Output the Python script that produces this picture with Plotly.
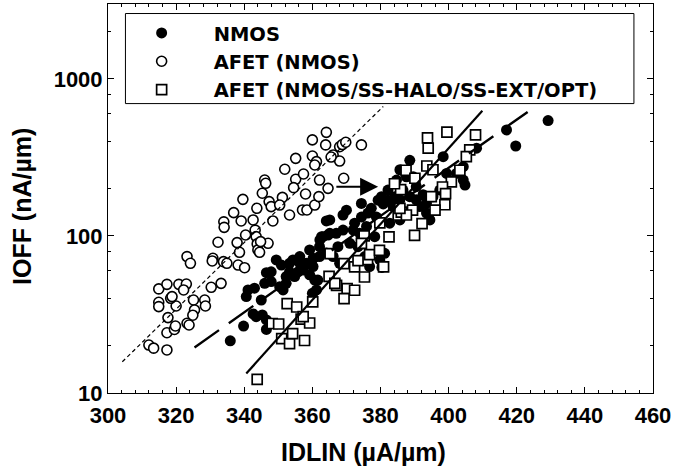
import plotly.graph_objects as go
import numpy as np

# ---------------- data ----------------
nmos_x = [335.9, 339.8, 346.5, 342.6, 343.5, 345.3, 346.5, 341.1, 340.6, 343.0, 345.0, 346.5, 347.9,
          350.4, 351.4, 352.3, 350.9, 354.3, 356.3, 358.2, 360.2, 359.2, 361.6, 360.0, 362.1, 364.6,
          364.1, 362.7, 360.2, 355.8, 353.3, 352.3, 347.9, 349.4, 346.0, 353.3, 357.2, 354.8, 361.2,
          356.3, 357.3, 360.7, 362.2, 365.1, 367.0, 370.0, 369.0, 374.4, 372.4, 375.9, 371.0, 373.4,
          375.4, 376.8, 381.2, 379.8, 378.3, 380.3, 382.2, 384.7, 385.7, 388.6, 387.6, 390.5, 388.6,
          385.7, 391.5, 393.5, 394.5, 386.6, 383.7, 382.7, 378.8, 398.4, 402.3, 404.3, 404.3, 404.8,
          408.2, 417.0, 419.7, 429.2, 399.4, 397.4, 395.4, 367.5, 369.0, 372.0, 374.4, 376.3, 373.9,
          377.3, 379.3, 380.8, 382.2, 384.2, 386.6, 389.6, 390.5, 392.5, 393.5, 385.7, 364.1, 366.1,
          368.0, 363.1, 365.1, 362.1, 359.2, 380.4]
nmos_y = [21.5, 26.7, 25.4, 31.9, 30.6, 31.4, 29.2, 45.3, 41.1, 46.5, 39.1, 58.4, 51.2,
          47.5, 45.3, 55.1, 65.3, 70.4, 73.9, 67.0, 63.8, 56.6, 52.4, 43.1, 85.5, 101.4,
          124.6, 99, 72.1, 59.1, 59.1, 49.9, 59.1, 70.4, 49.9, 67.0, 63.8, 55.1, 45.3,
          67, 60.7, 52.4, 94.4, 126.5, 104, 146, 136, 161, 120.6, 115, 89.8, 85.5,
          73.9, 63.8, 77.5, 70.4, 99, 178, 196, 227, 264, 303, 238, 206, 178,
          170, 154, 140, 126.5, 140, 154, 120.6, 132, 320, 250, 276, 227, 211,
          362, 473, 374, 543, 250, 196, 178, 85.5, 109, 109, 132, 140, 104,
          150, 169, 160, 169, 178, 196, 238, 170, 183, 162, 126.5, 78, 74,
          67, 99, 104, 74, 81.4, 63]

afet_x = [312.0, 313.4, 317.3, 317.3, 319.5, 319.8, 317.6, 320.0, 318.4, 314.9, 317.3, 320.8, 323.0,
          322.2, 314.9, 314.9, 318.8, 323.2, 324.2, 325.1, 325.4, 324.9, 323.2, 323.8, 328.4, 328.6,
          330.3, 330.8, 330.6, 333.2, 332.3, 333.9, 334.9, 334.0, 334.1, 336.9, 337.9, 338.6, 338.2,
          340.1, 339.1, 339.6, 340.4, 342.6, 343.7, 343.2, 343.5, 343.8, 344.0, 346.0, 346.3, 345.3,
          347.3, 347.9, 348.4, 347.0, 344.8, 344.5, 351.2, 350.4, 351.9, 353.3, 355.1, 355.1, 354.5,
          357.1, 358.4, 357.4, 358.0, 360.7, 360.0, 360.0, 361.2, 360.7, 362.1, 361.9, 364.1, 363.9,
          364.6, 368.0, 366.1, 369.2, 368.0, 368.8, 369.8, 374.4, 365.5]
afet_y = [20.2, 19.3, 18.8, 24.2, 25.4, 26.7, 30.2, 35.8, 40.1, 46.0, 49.2, 49.2, 49.4,
          45.3, 37.8, 35.5, 41.1, 73.9, 67.0, 39.1, 33.8, 31.3, 27.8, 27.1, 39.1, 35.8,
          47.1, 72.1, 69.3, 49.9, 91.2, 68.6, 67.0, 123, 113.5, 140.8, 90.7, 78.7, 65.3,
          62.8, 124.6, 171, 101.4, 126.5, 150, 109, 99, 89, 81.4, 227, 216.5, 187,
          165.5, 153.8, 124.6, 89.8, 92, 78.7, 176, 157.4, 265.9, 136, 312, 229.6, 203,
          146.4, 146.4, 248, 185, 157.4, 409, 323, 297.5, 283, 227, 178, 457, 380,
          201, 370, 328, 233, 300, 382, 395, 380, 318]

opt_x = [343.8, 348.2, 350.1, 351.0, 353.3, 354.2, 357.7, 352.6, 355.4, 356.7, 359.2, 360.1, 364.9,
         365.2, 367.1, 370.2, 372.4, 369.3, 369.3, 372.4, 375.3, 376.2, 376.8, 375.2, 374.4, 379.7,
         380.9, 382.5, 379.8, 385.2, 386.1, 389.4, 387.6, 390.0, 392.2, 385.9, 384.1, 387.5, 390.1,
         393.6, 393.8, 394.0, 399.5, 407.9, 406.2, 405.2, 403.3, 400.8, 398.2, 399.1, 398.9, 396.0,
         394.9, 395.4, 385.7, 373.4, 366.6, 357.3]
opt_y = [12.2, 27.7, 27.5, 22.2, 20.6, 23.9, 21.6, 37.1, 35.3, 29.5, 27.9, 38.0, 55.3,
         77.1, 48.5, 46.2, 45.1, 39.9, 66.7, 63.5, 54.8, 70.6, 76.0, 100, 89.8, 81,
         63.5, 98.7, 121, 136, 142, 146, 136, 101, 120, 197, 215, 262, 233,
         279, 421, 363, 459, 440, 353, 320, 262, 221, 205, 186, 158, 146,
         178, 264, 150, 69.6, 49.9, 30.6]

# fitted trend lines (end points)
fit_afet_x = [304.2, 380.8]
fit_afet_y = [15.8, 667]
fit_nmos_x = [325.4, 424.3]
fit_nmos_y = [19.5, 641]
fit_opt_x = [340.6, 409.9]
fit_opt_y = [13.3, 628]

# arrow (from AFET(NMOS) cloud to shifted cloud)
arrow_x = [366.6, 379.3]
arrow_y = [206, 206]

x_ticks = list(range(300, 461, 20))
y_ticks = [10, 100, 1000]
y_minor = [20, 40, 60, 80, 200, 400, 600, 800, 2000]

series_names = ["NMOS", "AFET (NMOS)", "AFET (NMOS/SS-HALO/SS-EXT/OPT)"]

FONT = "Liberation Sans, Arial, sans-serif"
LEGFONT = "DejaVu Sans, Liberation Sans, sans-serif"

fig = go.Figure()

fig.add_trace(go.Scatter(
    x=afet_x, y=afet_y, mode="markers", name=series_names[1], legendrank=2,
    marker=dict(symbol="circle", size=10, color="white", line=dict(color="black", width=1.6))))
fig.add_trace(go.Scatter(
    x=nmos_x, y=nmos_y, mode="markers", name=series_names[0], legendrank=1,
    marker=dict(symbol="circle", size=11, color="black", line=dict(color="black", width=0))))
fig.add_trace(go.Scatter(
    x=opt_x, y=opt_y, mode="markers", name=series_names[2], legendrank=3,
    marker=dict(symbol="square", size=10, color="white", line=dict(color="black", width=1.7))))

fig.add_trace(go.Scatter(x=fit_afet_x, y=fit_afet_y, mode="lines", showlegend=False,
                         line=dict(color="black", width=1.2, dash="4px,3px")))
fig.add_trace(go.Scatter(x=fit_nmos_x, y=fit_nmos_y, mode="lines", showlegend=False,
                         line=dict(color="black", width=2.4, dash="30px,12px")))
fig.add_trace(go.Scatter(x=fit_opt_x, y=fit_opt_y, mode="lines", showlegend=False,
                         line=dict(color="black", width=2.2)))

fig.add_annotation(x=arrow_x[1], y=np.log10(arrow_y[1]), ax=arrow_x[0], ay=np.log10(arrow_y[0]),
                   xref="x", yref="y", axref="x", ayref="y", text="", showarrow=True,
                   arrowhead=2, arrowsize=1.8, arrowwidth=2, arrowcolor="black")

# axis titles
fig.add_annotation(text="IDLIN (µA/µm)", xref="paper", yref="paper", x=0.469, y=-0.152,
                   showarrow=False, xanchor="center", yanchor="middle",
                   font=dict(family=FONT, size=25, color="black", weight="bold"))
fig.add_annotation(text="IOFF (nA/µm)", xref="paper", yref="paper", x=-0.159, y=0.479,
                   showarrow=False, xanchor="center", yanchor="middle", textangle=-90,
                   font=dict(family=FONT, size=25, color="black", weight="bold"))

# legend frame
fig.add_shape(type="rect", xref="paper", yref="paper", x0=0.032, x1=0.965, y0=0.744, y1=0.9755,
              line=dict(color="black", width=1), fillcolor="white", layer="below")

fig.update_layout(
    width=674, height=469,
    margin=dict(l=108, r=21, t=4, b=76),
    paper_bgcolor="white", plot_bgcolor="white",
    font=dict(family=FONT, color="black"),
    legend=dict(x=0.003, y=0.975, xanchor="left", yanchor="top",
                bgcolor="rgba(0,0,0,0)", borderwidth=0, traceorder="normal",
                font=dict(family=LEGFONT, size=19.5, color="black", weight="bold"),
                itemwidth=94),
)
fig.update_xaxes(range=[300, 460], tickmode="array", tickvals=x_ticks,
                 ticks="inside", ticklen=6, tickwidth=1, tickcolor="black",
                 showline=True, linecolor="black", linewidth=1, mirror="allticks",
                 showgrid=False, zeroline=False, ticklabelstandoff=3,
                 tickfont=dict(family=FONT, size=22, color="black", weight="bold"),
                 minor=dict(dtick=4, ticks="inside", ticklen=3, tickcolor="black", showgrid=False))
fig.update_yaxes(type="log", range=[1, np.log10(3000)], tickmode="array", tickvals=y_ticks,
                 ticktext=[str(v) for v in y_ticks],
                 ticks="inside", ticklen=6, tickwidth=1, tickcolor="black",
                 showline=True, linecolor="black", linewidth=1, mirror="allticks",
                 showgrid=False, zeroline=False,
                 tickfont=dict(family=FONT, size=22, color="black", weight="bold"),
                 minor=dict(tickmode="array", tickvals=y_minor, ticks="inside", ticklen=3,
                            tickcolor="black", showgrid=False))

fig.write_html("out.html")
